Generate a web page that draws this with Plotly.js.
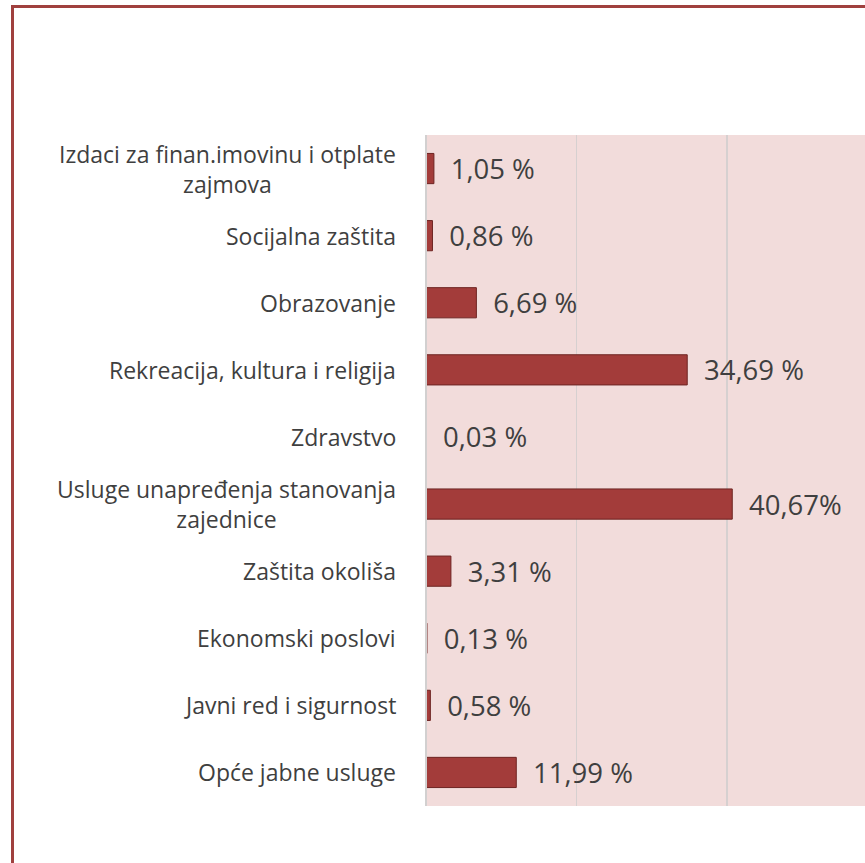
<!DOCTYPE html>
<html>
<head>
<meta charset="utf-8">
<script src="https://cdn.plot.ly/plotly-3.0.1.min.js"></script>
<style>html,body{margin:0;padding:0;background:#fff;overflow:hidden}</style>
</head>
<body>
<div id="chart" style="width:865px;height:863px"></div>
<script>
const categories = [
  "Izdaci za finan.imovinu i otplate<br>zajmova",
  "Socijalna zaštita",
  "Obrazovanje",
  "Rekreacija, kultura i religija",
  "Zdravstvo",
  "Usluge unapređenja stanovanja<br>zajednice",
  "Zaštita okoliša",
  "Ekonomski poslovi",
  "Javni red i sigurnost",
  "Opće jabne usluge"
];
const values = [1.05, 0.86, 6.69, 34.69, 0.03, 40.67, 3.31, 0.13, 0.58, 11.99];
const valueLabels = ["1,05 %", "0,86 %", "6,69 %", "34,69 %", "0,03 %", "40,67%", "3,31 %", "0,13 %", "0,58 %", "11,99 %"];

const trace = {
  type: "bar",
  orientation: "h",
  y: categories,
  x: values,
  text: valueLabels.map(t => "\u2002" + t),
  textposition: "outside",
  constraintext: "none",
  cliponaxis: false,
  textfont: {family: "Open Sans, sans-serif", size: 27.5, color: "#3F3F3F"},
  marker: {color: "#A33C3A", line: {color: "#6E2422", width: 1}},
  hoverinfo: "none"
};

const annotations = categories.map(c => ({
  xref: "paper", yref: "y",
  x: 0, y: c,
  xshift: -28,
  xanchor: "right", yanchor: "middle",
  align: "center",
  text: c,
  showarrow: false,
  font: {family: "Open Sans, sans-serif", size: 23, color: "#3F3F3F"}
}));

const layout = {
  width: 865, height: 863,
  margin: {l: 426, r: 0, t: 135, b: 57, pad: 0},
  paper_bgcolor: "#ffffff",
  plot_bgcolor: "#F2DCDB",
  showlegend: false,
  bargap: 0.55,
  xaxis: {
    range: [0, 58.3],
    dtick: 20,
    showgrid: true, gridcolor: "#D6D0D0", gridwidth: 1.5,
    zeroline: false,
    showline: false,
    showticklabels: false,
    ticks: "",
    fixedrange: true
  },
  yaxis: {
    type: "category",
    autorange: "reversed",
    showticklabels: false,
    showgrid: false,
    zeroline: false,
    showline: false,
    ticks: "",
    fixedrange: true
  },
  annotations: annotations,
  shapes: [
    {type: "line", xref: "paper", yref: "paper", x0: 0, x1: 0, y0: 0, y1: 1,
     line: {color: "#D2D0D0", width: 2}},
    {type: "rect", xref: "paper", yref: "paper",
     x0: (12.5 - 426) / 439, x1: 1.2, y0: -0.3, y1: 1 + (135 - 6.5) / 671,
     line: {color: "#A0403E", width: 3}, fillcolor: "rgba(0,0,0,0)", layer: "above"}
  ]
};

Plotly.newPlot("chart", [trace], layout, {displayModeBar: false, staticPlot: true});
</script>
</body>
</html>
